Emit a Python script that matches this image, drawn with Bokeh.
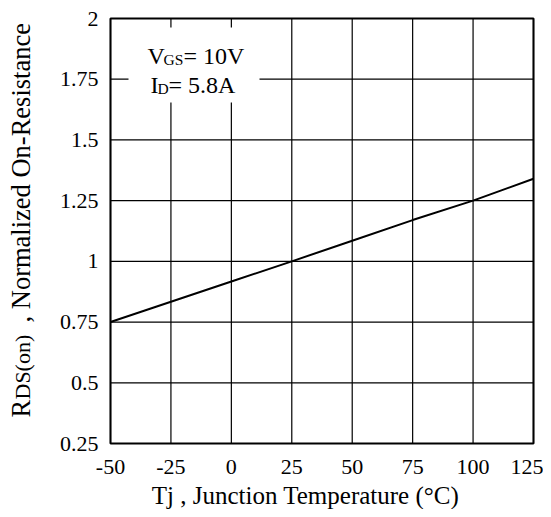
import math
from bokeh.plotting import figure
from bokeh.models import Label, BoxAnnotation, FixedTicker, Range1d
from bokeh.embed import file_html
from bokeh.resources import INLINE

# ---- data ----
temps = [-50, 0, 25, 50, 75, 100, 125]
rds_on = [0.75, 0.917, 1.0, 1.085, 1.17, 1.25, 1.34]
x_ticks = [-50, -25, 0, 25, 50, 75, 100, 125]
x_tick_labels = {-50: "-50", -25: "-25", 0: "0", 25: "25", 50: "50", 75: "75",
                 100: "100", 125: "125"}
y_ticks = [0.25, 0.5, 0.75, 1.0, 1.25, 1.5, 1.75, 2.0]
y_tick_labels = {0.25: "0.25", 0.5: "0.5", 0.75: "0.75", 1.0: "1", 1.25: "1.25",
                 1.5: "1.5", 1.75: "1.75", 2.0: "2"}

FONT = "Liberation Serif"

# ---- layout (pixels on the canvas) ----
W, H = 543, 509
FL, FR, FT, FB = 110, 533, 18, 443   # plot box edges

xs = (FR - FL) / (x_ticks[-1] - x_ticks[0])
ys = (FB - FT) / (y_ticks[-1] - y_ticks[0])
x_range = Range1d(x_ticks[0] - FL / xs, x_ticks[-1] + (W - FR) / xs)
y_range = Range1d(y_ticks[0] - (H - FB) / ys, y_ticks[-1] + FT / ys)

p = figure(width=W, height=H, output_backend="svg", toolbar_location=None,
           x_range=x_range, y_range=y_range, min_border=0,
           min_border_left=0, min_border_right=0, min_border_top=0,
           min_border_bottom=0)
p.outline_line_color = None
p.xgrid.visible = False
p.ygrid.visible = False

for ax in (p.xaxis[0], p.yaxis[0]):
    ax.axis_line_color = None
    ax.major_tick_line_color = None
    ax.minor_tick_line_color = None
    ax.major_tick_in = 0
    ax.major_tick_out = 0
    ax.major_label_text_font = FONT
    ax.major_label_text_font_size = "22px"
    ax.major_label_text_color = "black"

p.xaxis[0].ticker = FixedTicker(ticks=x_ticks)
p.yaxis[0].ticker = FixedTicker(ticks=y_ticks)
p.xaxis[0].major_label_overrides = x_tick_labels
p.yaxis[0].major_label_overrides = y_tick_labels
p.xaxis[0].fixed_location = y_ticks[0]
p.yaxis[0].fixed_location = x_ticks[0]
p.xaxis[0].major_label_standoff = 16
p.yaxis[0].major_label_standoff = 12

# grid lines from the tick positions
n_x, n_y = len(x_ticks), len(y_ticks)
p.segment(x0=x_ticks, y0=[y_ticks[0]] * n_x, x1=x_ticks, y1=[y_ticks[-1]] * n_x,
          line_color="black", line_width=1.2)
p.segment(x0=[x_ticks[0]] * n_y, y0=y_ticks, x1=[x_ticks[-1]] * n_y, y1=y_ticks,
          line_color="black", line_width=1.2)
# plot border
p.quad(left=[x_ticks[0]], right=[x_ticks[-1]], bottom=[y_ticks[0]], top=[y_ticks[-1]],
       fill_color=None, line_color="black", line_width=2)

p.line(temps, rds_on, line_color="black", line_width=2)

# white box behind the condition text
p.add_layout(BoxAnnotation(left=128, right=259, top=27, bottom=102,
                           left_units="canvas", right_units="canvas",
                           top_units="canvas", bottom_units="canvas",
                           fill_color="white", fill_alpha=1.0, line_alpha=0))

MID = 0.3375  # em-box middle above the baseline (Liberation Serif)

def lab(text, x, base, size, rotated=False, align="left"):
    """Place text so that its baseline sits at `base` (y, or x when rotated)."""
    off = MID * size
    if rotated:
        px, py, ang = base - off, x, math.pi / 2
    else:
        px, py, ang = x, base - off, 0.0
    p.add_layout(Label(x=px, y=py, x_units="canvas", y_units="canvas", text=text,
                       text_font=FONT, text_font_size=f"{size}px", text_color="black",
                       text_align=align, text_baseline="middle", angle=ang))

# condition text
lab("V", 147, 64, 24)
lab("GS", 163, 64, 15.5)
lab("= 10V", 183, 64, 24)
lab("I", 150, 93, 24)
lab("D", 157, 93, 15.5)
lab("= 5.8A", 168, 93, 24)

# x axis title
lab("Tj , Junction Temperature (°C)", 305, 503, 25, align="center")

# y axis title (rotated, mixed sizes); x = position along the text, base = baseline x
lab("R", 417, 29.5, 26.5, rotated=True)
lab("DS(on)", 399, 29.5, 22, rotated=True)
lab(", Normalized On-Resistance", 322, 29.5, 26.5, rotated=True)

open("out.html", "w").write(file_html(p, INLINE))
